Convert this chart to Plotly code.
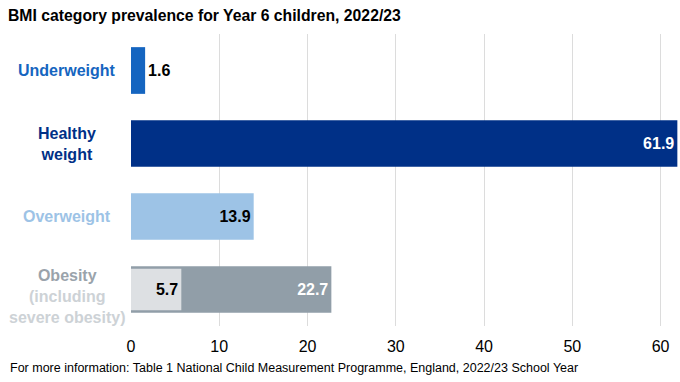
import plotly.graph_objects as go

categories = ["Underweight", "Healthy weight", "Overweight", "Obesity (including severe obesity)"]
values = [1.6, 61.9, 13.9, 22.7]
severe_category = ["Obesity (including severe obesity)"]
severe_values = [5.7]
x_ticks = [0, 10, 20, 30, 40, 50, 60]

bar_colors = ["#1565c0", "#003087", "#9dc3e6", "#919ea8"]
text_colors = ["#000000", "#ffffff", "#000000", "#ffffff"]
positions = ["outside", "inside", "inside", "inside"]

FONT = "Liberation Sans, Arial, sans-serif"
PLOT_W = 680 - 131
PLOT_H = 382 - 34 - 56

fig = go.Figure()
fig.add_trace(go.Bar(
    y=categories, x=values, orientation="h",
    marker=dict(color=bar_colors, line=dict(width=0)),
    width=0.64,
    text=[f"<b>{v}</b>" for v in values],
    textposition=positions,
    insidetextanchor="end",
    textfont=dict(color=text_colors, size=16, family=FONT),
    cliponaxis=False,
    hoverinfo="skip",
))
fig.add_trace(go.Bar(
    y=severe_category, x=severe_values, orientation="h",
    marker=dict(color="#dde0e3", line=dict(width=0)),
    width=0.57,
    text=[f"<b>{v}</b>" for v in severe_values],
    textposition="inside",
    insidetextanchor="end",
    textfont=dict(color="#000000", size=16, family=FONT),
    hoverinfo="skip",
))

label_texts = [
    "<b>Underweight</b>",
    "<b>Healthy<br>weight</b>",
    "<b>Overweight</b>",
    "<b><span style='color:#9aa3ab'>Obesity</span><br>(including<br>severe obesity)</b>",
]
label_cols = ["#1565c0", "#003087", "#9dc3e6", "#cdd2d6"]
label_shifts = [0, 0, 0, -7]
for cat, txt, col, sh in zip(categories, label_texts, label_cols, label_shifts):
    fig.add_annotation(
        x=(67 - 131) / PLOT_W, xref="paper", y=cat, yref="y",
        text=txt, showarrow=False, xanchor="center", yanchor="middle",
        align="center", yshift=sh, font=dict(size=16, color=col, family=FONT),
    )

fig.add_annotation(
    x=(8 - 131) / PLOT_W, xref="paper", xanchor="left",
    y=(326 - 368) / PLOT_H, yref="paper", yanchor="middle",
    text="For more information: Table 1 National Child Measurement Programme, England, 2022/23 School Year",
    showarrow=False, font=dict(size=12.5, color="#000000", family=FONT),
)

fig.update_layout(
    width=680, height=382,
    margin=dict(l=131, r=0, t=34, b=56),
    barmode="overlay",
    plot_bgcolor="white", paper_bgcolor="white",
    showlegend=False,
    font=dict(family=FONT, color="#000000"),
    title=dict(
        text="<b>BMI category prevalence for Year 6 children, 2022/23</b>",
        x=8 / 680, xanchor="left", y=1 - 15 / 382, yanchor="middle",
        font=dict(size=15.75, color="#000000", family=FONT),
    ),
    xaxis=dict(
        range=[0, 62.2], tickvals=x_ticks, ticktext=[str(t) for t in x_ticks],
        showgrid=True, gridcolor="#dcdcdc", gridwidth=1,
        zeroline=False, showline=False, ticks="",
        ticklabelstandoff=9,
        tickfont=dict(size=16, color="#000000", family=FONT),
    ),
    yaxis=dict(
        categoryorder="array", categoryarray=categories, autorange="reversed",
        showticklabels=False, showgrid=False, zeroline=False, showline=False, ticks="",
    ),
)

fig.write_html("out.html", config={"displayModeBar": False},
               post_script="document.body.style.margin='0';")
